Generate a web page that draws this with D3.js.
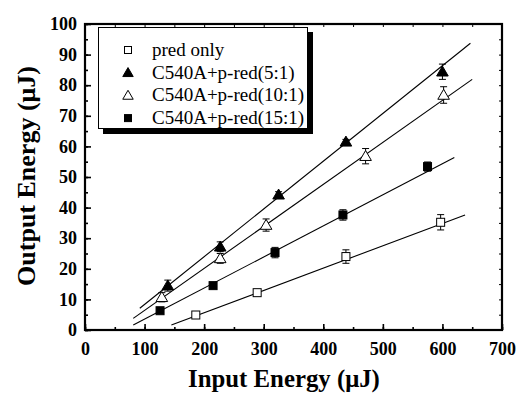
<!DOCTYPE html>
<html>
<head>
<meta charset="utf-8">
<script src="https://cdn.jsdelivr.net/npm/d3@7"></script>
<style>
  body { margin: 0; background: #fff; }
  svg text { font-family: "Liberation Serif", "Times New Roman", serif; }
</style>
</head>
<body>
<svg id="chart" width="518" height="393"></svg>
<script>
// data
const seriesNames = ["pred only", "C540A+p-red(5:1)", "C540A+p-red(10:1)", "C540A+p-red(15:1)"];
const markerKinds = ["openSquare", "filledTriangle", "openTriangle", "filledSquare"];

const predOnly = [[186, 4.9, 0], [289, 12.2, 0.5], [438, 24, 2.2], [597, 35.2, 2.5]];
const ratio5 = [[139, 14.5, 1.8], [227, 27.2, 1.6], [325, 44.2, 1], [438, 61.5, 0.8], [600, 84.4, 2.5]];
const ratio10 = [[129, 10.7, 1.5], [227, 23.4, 1.6], [304, 34.3, 2], [471, 56.8, 2.5], [602, 76.8, 2.7]];
const ratio15 = [[126, 6.3, 0], [215, 14.5, 0], [319, 25.3, 1.7], [433, 37.6, 1.7], [575, 53.4, 1.5]];

// fitted lines, endpoints [x0, y0, x1, y1]
const fitPred = [145, 1.6, 638, 37.6];
const fit5 = [92, 7.1, 647, 93.7];
const fit10 = [81, 3.8, 650, 81.9];
const fit15 = [81, 1.6, 620, 56.4];

const xTicks = [0, 100, 200, 300, 400, 500, 600, 700];
const yTicks = [0, 10, 20, 30, 40, 50, 60, 70, 80, 90, 100];

const allSeries = [predOnly, ratio5, ratio10, ratio15];
const allFits = [fitPred, fit5, fit10, fit15];

let svg = d3.select("#chart");

let x = d3.scaleLinear().domain([0, 700]).range([85, 502]);
let y = d3.scaleLinear().domain([0, 100]).range([330, 24]);

// fit lines
svg.append("g")
    .selectAll("line")
    .data(allFits)
    .join("line")
    .attr("x1", d => x(d[0])).attr("y1", d => y(d[1]))
    .attr("x2", d => x(d[2])).attr("y2", d => y(d[3]))
    .attr("stroke", "#000")
    .attr("stroke-width", 1.1);

// marker drawing
function drawMarker(g, kind, s) {
    if (kind === "openSquare" || kind === "filledSquare") {
        g.append("rect")
            .attr("x", -s / 2).attr("y", -s / 2)
            .attr("width", s).attr("height", s)
            .attr("fill", kind === "filledSquare" ? "#000" : "#fff")
            .attr("stroke", "#000").attr("stroke-width", 1);
    } else {
        let h = s * 0.95;
        g.append("path")
            .attr("d", `M0,${-h * 0.6} L${s * 0.58},${h * 0.45} L${-s * 0.58},${h * 0.45} Z`)
            .attr("fill", kind === "filledTriangle" ? "#000" : "#fff")
            .attr("stroke", "#000").attr("stroke-width", 1);
    }
}

allSeries.forEach(function(series, i) {
    let g = svg.append("g");

    // error bars
    let eb = g.selectAll("g.err")
        .data(series.filter(d => d[2] > 0))
        .join("g")
        .attr("class", "err");
    eb.append("line")
        .attr("x1", d => x(d[0])).attr("x2", d => x(d[0]))
        .attr("y1", d => y(d[1] - d[2])).attr("y2", d => y(d[1] + d[2]))
        .attr("stroke", "#000");
    eb.append("line")
        .attr("x1", d => x(d[0]) - 3.5).attr("x2", d => x(d[0]) + 3.5)
        .attr("y1", d => y(d[1] + d[2])).attr("y2", d => y(d[1] + d[2]))
        .attr("stroke", "#000");
    eb.append("line")
        .attr("x1", d => x(d[0]) - 3.5).attr("x2", d => x(d[0]) + 3.5)
        .attr("y1", d => y(d[1] - d[2])).attr("y2", d => y(d[1] - d[2]))
        .attr("stroke", "#000");

    g.selectAll("g.pt")
        .data(series)
        .join("g")
        .attr("class", "pt")
        .attr("transform", d => `translate(${x(d[0])},${y(d[1])})`)
        .each(function() {
            let sz = markerKinds[i].indexOf("Square") >= 0 ? 8 : 10;
            drawMarker(d3.select(this), markerKinds[i], sz);
        });
});

// axes
let xMinor = d3.range(0, 701, 50);
let yMinor = d3.range(0, 101, 5);

let bottomMinor = svg.append("g").attr("transform", "translate(0,330)")
    .call(d3.axisBottom(x).tickValues(xMinor).tickSize(-3).tickFormat(""));
bottomMinor.selectAll(".tick line").attr("stroke-width", 1.6);
let bottomMajor = svg.append("g").attr("transform", "translate(0,330)")
    .call(d3.axisBottom(x).tickValues(xTicks).tickSizeInner(-6).tickSizeOuter(0).tickPadding(12).tickFormat(d3.format("d")));
bottomMajor.selectAll(".tick line").attr("stroke-width", 1.6);

let topAxis = svg.append("g").attr("transform", "translate(0,24)")
    .call(d3.axisTop(x).tickValues(xMinor).tickSize(-3).tickFormat(""));

let leftMinor = svg.append("g").attr("transform", "translate(85,0)")
    .call(d3.axisLeft(y).tickValues(yMinor).tickSize(-3).tickFormat(""));
leftMinor.selectAll(".tick line").attr("stroke-width", 1.6);
let leftMajor = svg.append("g").attr("transform", "translate(85,0)")
    .call(d3.axisLeft(y).tickValues(yTicks).tickSizeInner(-6).tickSizeOuter(0).tickPadding(8).tickFormat(d3.format("d")));
leftMajor.selectAll(".tick line").attr("stroke-width", 1.6);

let rightAxis = svg.append("g").attr("transform", "translate(502,0)")
    .call(d3.axisRight(y).tickValues(yMinor).tickSize(-3).tickFormat(""));

svg.selectAll(".domain").remove();
svg.selectAll(".tick text")
    .attr("font-family", "Liberation Serif, serif")
    .attr("font-weight", "bold")
    .attr("font-size", 18)
    .attr("fill", "#000");

// frame
svg.append("rect")
    .attr("x", 85).attr("y", 24)
    .attr("width", 502 - 85).attr("height", 330 - 24)
    .attr("fill", "none")
    .attr("stroke", "#000")
    .attr("stroke-width", 2.2);

// legend
let legend = svg.append("g");
legend.append("rect")
    .attr("x", 103).attr("y", 32).attr("width", 210).attr("height", 102)
    .attr("fill", "#000");
legend.append("rect")
    .attr("x", 98.5).attr("y", 27.5).attr("width", 209).attr("height", 101)
    .attr("fill", "#fff")
    .attr("stroke", "#000").attr("stroke-width", 1);

seriesNames.forEach(function(name, i) {
    let ly = 50 + i * 22.7;
    let mg = legend.append("g").attr("transform", `translate(128,${ly})`);
    drawMarker(mg, markerKinds[i], markerKinds[i].indexOf("Square") >= 0 ? 7 : 9);
    legend.append("text")
        .attr("x", 152).attr("y", ly + 6)
        .attr("font-size", 19)
        .text(name);
});

// axis titles
svg.append("text")
    .attr("x", 284).attr("y", 387)
    .attr("text-anchor", "middle")
    .attr("font-weight", "bold")
    .attr("font-size", 24.8)
    .text("Input Energy (\u03bcJ)");

svg.append("text")
    .attr("transform", "translate(35,176) rotate(-90)")
    .attr("text-anchor", "middle")
    .attr("font-weight", "bold")
    .attr("font-size", 26)
    .text("Output Energy (\u03bcJ)");
</script>
</body>
</html>
